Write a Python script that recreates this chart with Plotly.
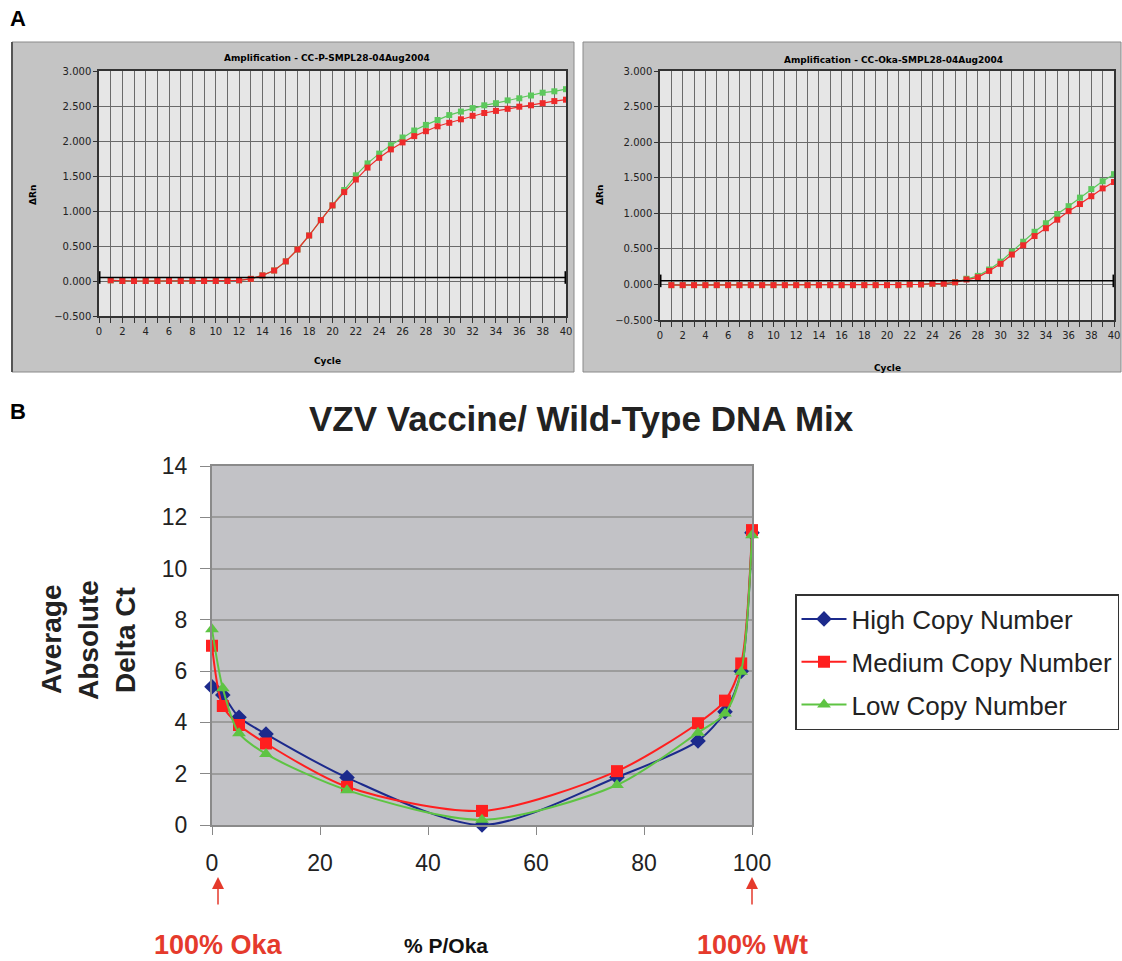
import plotly.graph_objects as go

W, H = 1122, 961

# ---------------- data ----------------
cycles = list(range(1, 41))
p_red = [0.01, 0.0, 0.0, 0.0, 0.0, 0.0, 0.0, 0.0, 0.0, 0.0, 0.0, 0.01, 0.03, 0.08, 0.15, 0.28,
         0.45, 0.65, 0.87, 1.08, 1.27, 1.45, 1.62, 1.76, 1.88, 1.98, 2.07, 2.14, 2.21, 2.26,
         2.31, 2.36, 2.40, 2.43, 2.46, 2.49, 2.51, 2.54, 2.57, 2.59]
p_green = [0.01, 0.0, 0.0, 0.0, 0.0, 0.0, 0.0, 0.0, 0.0, 0.0, 0.0, 0.01, 0.03, 0.08, 0.15, 0.28,
           0.45, 0.65, 0.87, 1.08, 1.30, 1.51, 1.68, 1.82, 1.94, 2.05, 2.15, 2.23, 2.30, 2.37,
           2.42, 2.47, 2.51, 2.54, 2.58, 2.61, 2.65, 2.69, 2.71, 2.74]
oka_red = [-0.01, -0.01, -0.01, -0.01, -0.01, -0.01, -0.01, -0.01, -0.01, -0.01, -0.01, -0.01,
           -0.01, -0.01, -0.01, -0.01, -0.01, -0.01, -0.01, -0.01, -0.01, 0.0, 0.0, 0.01, 0.01,
           0.03, 0.07, 0.10, 0.19, 0.29, 0.42, 0.55, 0.68, 0.79, 0.91, 1.03, 1.13, 1.24, 1.35, 1.44]
oka_green = [-0.01, -0.01, -0.01, -0.01, -0.01, -0.01, -0.01, -0.01, -0.01, -0.01, -0.01, -0.01,
             -0.01, -0.01, -0.01, -0.01, -0.01, -0.01, -0.01, -0.01, -0.01, 0.0, 0.0, 0.01, 0.01,
             0.03, 0.08, 0.12, 0.21, 0.32, 0.46, 0.60, 0.74, 0.86, 0.99, 1.10, 1.22, 1.34, 1.45, 1.55]
threshold_x = [0, 40]
threshold_y = [0.05, 0.05]

pct = [0, 2, 5, 10, 25, 50, 75, 90, 95, 98, 100]
high = [5.39, 5.07, 4.2, 3.55, 1.85, 0.0, 1.86, 3.28, 4.42, 6.0, 11.4]
medium = [6.99, 4.64, 3.9, 3.18, 1.49, 0.55, 2.1, 3.97, 4.85, 6.3, 11.5]
low = [7.63, 5.33, 3.58, 2.77, 1.36, 0.2, 1.56, 3.6, 4.35, 5.98, 11.3]
series_names = ["High Copy Number", "Medium Copy Number", "Low Copy Number"]

# ---------------- helpers ----------------
def px_x(x):
    return x / W

def px_y(y):
    return 1 - y / H

GREEN_A = "#5cc85c"
RED_A = "#ee2a2a"
AFONT = "DejaVu Sans"

fig = go.Figure()

# Panel A traces
for (xa, ya, red, green) in [("x", "y", p_red, p_green), ("x2", "y2", oka_red, oka_green)]:
    fig.add_trace(go.Scatter(x=cycles, y=green, mode="lines+markers", xaxis=xa, yaxis=ya,
                             line=dict(color=GREEN_A, width=1.2),
                             marker=dict(symbol="square", size=6, color=GREEN_A),
                             showlegend=False, cliponaxis=True))
    fig.add_trace(go.Scatter(x=cycles, y=red, mode="lines+markers", xaxis=xa, yaxis=ya,
                             line=dict(color=RED_A, width=1.2),
                             marker=dict(symbol="square", size=6, color=RED_A),
                             showlegend=False, cliponaxis=True))
    fig.add_trace(go.Scatter(x=threshold_x, y=threshold_y, mode="lines+markers", xaxis=xa, yaxis=ya,
                             line=dict(color="black", width=1.5),
                             marker=dict(symbol="line-ns", size=9, color="black",
                                         line=dict(color="black", width=3)),
                             showlegend=False, cliponaxis=False))

# Panel B traces
colors_b = ["#1c2a8c", "#ff1f1f", "#5ec443"]
symbols_b = ["diamond", "square", "triangle-up"]
for i, (name, vals) in enumerate(zip(series_names, [high, medium, low])):
    fig.add_trace(go.Scatter(x=pct, y=vals, mode="lines+markers", name=name,
                             xaxis="x3", yaxis="y3", legendgroup=f"g{i}",
                             line=dict(color=colors_b[i], width=2, shape="spline", smoothing=0.8),
                             marker=dict(symbol=symbols_b[i], size=12, color=colors_b[i]),
                             cliponaxis=False))

# ---------------- axes ----------------
def a_xaxis(domain, anchor):
    return dict(domain=domain, anchor=anchor, range=[0, 40], dtick=2, tick0=0,
                showgrid=True, gridcolor="#6a6a6a", gridwidth=1,
                minor=dict(dtick=1, showgrid=True, gridcolor="#6a6a6a", ticks="outside",
                           ticklen=5, tickcolor="#333"),
                ticks="outside", ticklen=5, tickcolor="#333",
                showline=True, linecolor="#333", linewidth=1.5, mirror=True,
                tickfont=dict(family=AFONT, size=10, color="#222"), zeroline=False,
                fixedrange=True, automargin=False)

def a_yaxis(domain, anchor):
    return dict(domain=domain, anchor=anchor, range=[-0.5, 3.0], dtick=0.5, tickformat=".3f",
                showgrid=True, gridcolor="#6a6a6a", gridwidth=1,
                ticks="outside", ticklen=4, tickcolor="#333",
                showline=True, linecolor="#333", linewidth=1.5, mirror=True,
                tickfont=dict(family=AFONT, size=10, color="#222"), zeroline=False,
                fixedrange=True, automargin=False)

BFONT = "Liberation Sans"
fig.update_layout(
    width=W, height=H, margin=dict(l=0, r=0, t=0, b=0, pad=0, autoexpand=False),
    paper_bgcolor="white", plot_bgcolor="#e6e6e6",
    xaxis=a_xaxis([px_x(99), px_x(566)], "y"),
    yaxis=a_yaxis([px_y(316), px_y(71)], "x"),
    xaxis2=a_xaxis([px_x(660), px_x(1114)], "y2"),
    yaxis2=a_yaxis([px_y(320), px_y(71)], "x2"),
    xaxis3=dict(domain=[px_x(212), px_x(752)], anchor="y3", range=[0, 100], dtick=20,
                showgrid=False, zeroline=False, ticks="outside", ticklen=8, tickcolor="#888",
                showline=True, linecolor="#8a8a8a", linewidth=2, mirror=True,
                tickfont=dict(family=BFONT, size=23, color="#222"), ticklabelstandoff=8,
                automargin=False),
    yaxis3=dict(domain=[px_y(825), px_y(466)], anchor="x3", range=[0, 14], dtick=2,
                showgrid=True, gridcolor="#9c9c9c", gridwidth=1.5, zeroline=False,
                ticks="outside", ticklen=10, tickcolor="#888",
                showline=True, linecolor="#8a8a8a", linewidth=2, mirror=True,
                tickfont=dict(family=BFONT, size=23, color="#222"), ticklabelstandoff=8,
                automargin=False),
    legend=dict(x=px_x(795), y=px_y(594), xanchor="left", yanchor="top",
                font=dict(family=BFONT, size=26, color="#222"),
                bordercolor="#333", borderwidth=1.5, bgcolor="white",
                tracegroupgap=6, itemwidth=45),
    showlegend=True,
)

# plot-area background for panel B and panel frames for A
shapes = [
    dict(type="rect", xref="paper", yref="paper", x0=px_x(12), x1=px_x(574), y0=px_y(372), y1=px_y(42),
         fillcolor="#c4c4c4", line=dict(color="#8a8a8a", width=1), layer="below"),
    dict(type="line", xref="paper", yref="paper", x0=px_x(12), x1=px_x(12), y0=px_y(372), y1=px_y(42),
         line=dict(color="#555", width=2), layer="below"),
    dict(type="rect", xref="paper", yref="paper", x0=px_x(583), x1=px_x(1121), y0=px_y(372), y1=px_y(42),
         fillcolor="#c4c4c4", line=dict(color="#8a8a8a", width=1), layer="below"),
    dict(type="rect", xref="x domain", yref="y domain", x0=0, x1=1, y0=0, y1=1,
         fillcolor="#e6e6e6", line=dict(width=0), layer="below"),
    dict(type="rect", xref="x2 domain", yref="y2 domain", x0=0, x1=1, y0=0, y1=1,
         fillcolor="#e6e6e6", line=dict(width=0), layer="below"),
    dict(type="rect", xref="x3 domain", yref="y3 domain", x0=0, x1=1, y0=0, y1=1,
         fillcolor="#c2c2c6", line=dict(width=0), layer="below"),
]
fig.update_layout(shapes=shapes)

ann = []
def text(x, y, s, size, color="black", bold=False, family=BFONT, angle=0, xanchor="center"):
    ann.append(dict(x=px_x(x), y=px_y(y), xref="paper", yref="paper", text=f"<b>{s}</b>" if bold else s,
                    showarrow=False, font=dict(family=family, size=size, color=color),
                    textangle=angle, xanchor=xanchor, yanchor="middle"))

text(18, 18, "A", 22, bold=True)
text(18, 412, "B", 22, bold=True)
text(327, 58, "Amplification - CC-P-SMPL28-04Aug2004", 9, bold=True, family=AFONT)
text(893, 60, "Amplification - CC-Oka-SMPL28-04Aug2004", 9, bold=True, family=AFONT)
text(327, 361, "Cycle", 9, bold=True, family=AFONT)
text(887, 368, "Cycle", 9, bold=True, family=AFONT)
text(33, 195, "ΔRn", 9, bold=True, family=AFONT, angle=-90)
text(600, 195, "ΔRn", 9, bold=True, family=AFONT, angle=-90)
text(581, 418, "VZV Vaccine/ Wild-Type DNA Mix", 35, color="#222", bold=True)
for xx, s in [(51, "Average"), (88, "Absolute"), (125, "Delta Ct")]:
    text(xx, 640, s, 28, color="#222", bold=True, angle=-90)
text(446, 945, "% P/Oka", 21, color="#111", bold=True)
text(218, 945, "100% Oka", 27, color="#e53a2c", bold=True)
text(752, 945, "100% Wt", 27, color="#e53a2c", bold=True)
for xv, shift in [(0, 6), (100, 0)]:
    ann.append(dict(x=xv, xref="x3", y=px_y(877), yref="paper", text="", showarrow=True,
                    ax=0, ay=29, arrowhead=2, arrowsize=1.6, arrowwidth=1.5, arrowcolor="#e53a2c",
                    xshift=shift, standoff=0))
fig.update_layout(annotations=ann)

fig.write_html("out.html", config={"displayModeBar": False},
               post_script="document.body.style.margin='0px';")
